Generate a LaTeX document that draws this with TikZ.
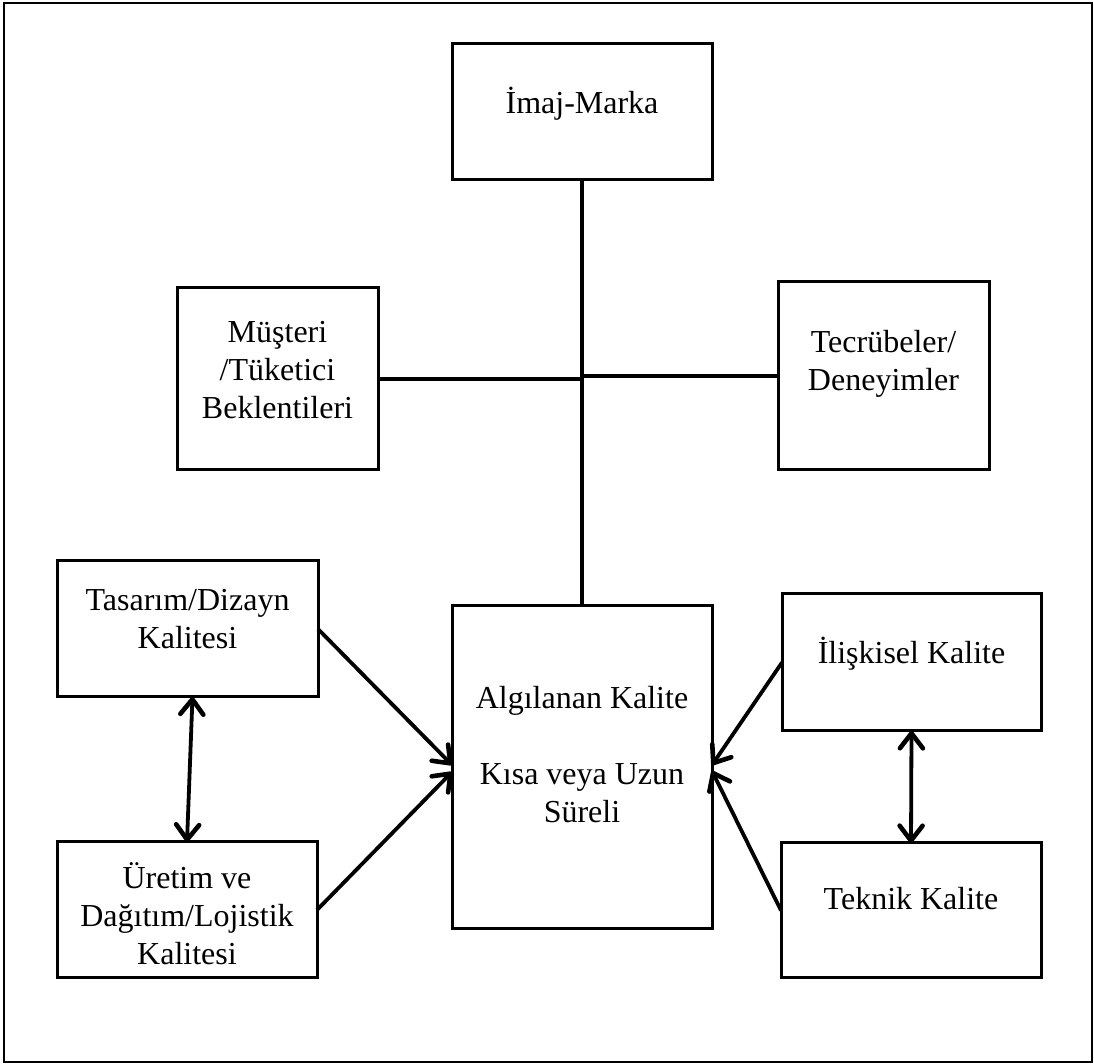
\documentclass[tikz,border=0pt]{standalone}
\usepackage{fontspec}
\setmainfont{Liberation Serif}
\usetikzlibrary{arrows.meta,calc}
\begin{document}
\begin{tikzpicture}[x=1pt,y=1pt,
  box/.style={draw,line width=3pt,inner sep=0pt,outer sep=0pt},
  txt/.style={font=\fontsize{32}{38}\selectfont,align=center,anchor=base,inner sep=0pt},
  conn/.style={line width=3.8pt},
  tip/.tip={Straight Barb[length=15pt,width=23pt,line width=4.6pt,round]},
  arr/.style={line width=3.8pt,-tip},
  darr/.style={line width=3.8pt,tip-tip}]
\useasboundingbox (0,0) rectangle (1094,1064);
\draw[line width=1.5pt] (4,2) rectangle (1092,1061);
% boxes
\node[box,minimum width=260pt,minimum height=136pt] (img) at (582,952) {};
\node[box,minimum width=201pt,minimum height=182pt] (mus) at (277.5,685) {};
\node[box,minimum width=211pt,minimum height=188pt] (tec) at (883.5,688) {};
\node[box,minimum width=261pt,minimum height=136pt] (tas) at (187.5,435) {};
\node[box,minimum width=260pt,minimum height=136pt] (ure) at (187,154) {};
\node[box,minimum width=260pt,minimum height=323pt] (alg) at (582,296.5) {};
\node[box,minimum width=259pt,minimum height=137pt] (ili) at (911.5,401.5) {};
\node[box,minimum width=260pt,minimum height=135pt] (tek) at (911,153.5) {};
% texts
\node[txt] (timg) at (582,950) {İmaj-Marka};
\node[txt] (tmus) at (277.5,645) {Müşteri\\/Tüketici\\Beklentileri};
\node[txt] (ttec) at (883.5,673) {Tecrübeler/\\Deneyimler};
\node[txt] (ttas) at (187.5,415) {Tasarım/Dizayn\\Kalitesi};
\node[txt] (ture) at (187,99) {Üretim ve\\Dağıtım/Lojistik\\Kalitesi};
\node[txt] (talg) at (582,241) {Algılanan Kalite\\[38pt]Kısa veya Uzun\\Süreli};
\node[txt] (tili) at (911.5,400) {İlişkisel Kalite};
\node[txt] (ttek) at (911,154) {Teknik Kalite};
% connectors
\draw[conn] (img.south) -- (alg.north);
\draw[conn] (mus.east) -- (mus.east -| img.south);
\draw[conn] (tec.west) -- (tec.west -| img.south);
\draw[arr] (tas.east) -- ($(alg.west)+(0,2.5)$);
\draw[arr] (ure.east) -- ($(alg.west)+(0,-4.5)$);
\draw[arr] (ili.west) -- ($(alg.east)+(0,2.5)$);
\draw[arr] (tek.west) -- ($(alg.east)+(0,-3.5)$);
\draw[darr] ($(tas.south)+(5,0)$) -- (ure.north);
\draw[darr] (ili.south) -- (tek.north);
\end{tikzpicture}
\end{document}
